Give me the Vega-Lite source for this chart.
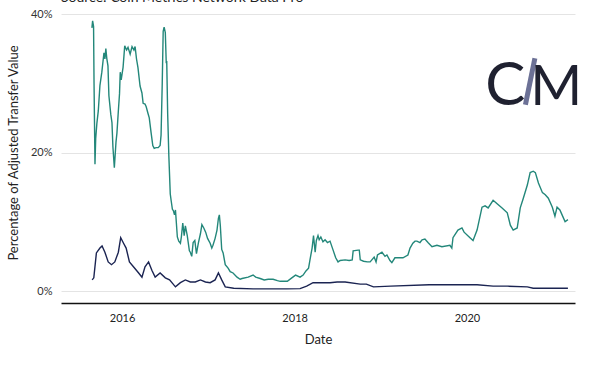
{
  "$schema": "https://vega.github.io/schema/vega-lite/v6.json",
  "width": 514,
  "height": 277,
  "autosize": {"type": "none"},
  "padding": {"left": 61, "top": 14, "right": 25, "bottom": 77},
  "background": "white",
  "title": {
    "text": "Source: Coin Metrics Network Data Pro",
    "anchor": "start",
    "frame": "group",
    "font": "Lato",
    "fontSize": 14,
    "fontWeight": "normal",
    "color": "#222",
    "offset": 3
  },
  "config": {
    "view": {"stroke": null},
    "font": "Lato"
  },
  "layer": [
    {
      "data": {
        "values": [
          {"date": "2015-08-26", "value": 38.0, "series": "A"},
          {"date": "2015-08-29", "value": 39.0, "series": "A"},
          {"date": "2015-09-02", "value": 38.2, "series": "A"},
          {"date": "2015-09-04", "value": 30.0, "series": "A"},
          {"date": "2015-09-08", "value": 18.3, "series": "A"},
          {"date": "2015-09-11", "value": 22.0, "series": "A"},
          {"date": "2015-09-16", "value": 24.2, "series": "A"},
          {"date": "2015-09-22", "value": 26.0, "series": "A"},
          {"date": "2015-09-29", "value": 29.7, "series": "A"},
          {"date": "2015-10-07", "value": 31.6, "series": "A"},
          {"date": "2015-10-16", "value": 34.4, "series": "A"},
          {"date": "2015-10-20", "value": 33.5, "series": "A"},
          {"date": "2015-10-24", "value": 35.0, "series": "A"},
          {"date": "2015-10-28", "value": 33.6, "series": "A"},
          {"date": "2015-11-02", "value": 32.5, "series": "A"},
          {"date": "2015-11-06", "value": 28.2, "series": "A"},
          {"date": "2015-11-14", "value": 25.5, "series": "A"},
          {"date": "2015-11-19", "value": 24.3, "series": "A"},
          {"date": "2015-11-23", "value": 20.8, "series": "A"},
          {"date": "2015-11-29", "value": 17.8, "series": "A"},
          {"date": "2015-12-06", "value": 21.5, "series": "A"},
          {"date": "2015-12-10", "value": 22.8, "series": "A"},
          {"date": "2015-12-16", "value": 26.0, "series": "A"},
          {"date": "2015-12-21", "value": 28.5, "series": "A"},
          {"date": "2015-12-24", "value": 31.6, "series": "A"},
          {"date": "2015-12-28", "value": 30.5, "series": "A"},
          {"date": "2016-01-05", "value": 32.3, "series": "A"},
          {"date": "2016-01-12", "value": 35.4, "series": "A"},
          {"date": "2016-01-20", "value": 34.8, "series": "A"},
          {"date": "2016-01-26", "value": 35.2, "series": "A"},
          {"date": "2016-02-04", "value": 34.2, "series": "A"},
          {"date": "2016-02-12", "value": 35.3, "series": "A"},
          {"date": "2016-02-20", "value": 34.8, "series": "A"},
          {"date": "2016-02-25", "value": 35.3, "series": "A"},
          {"date": "2016-03-02", "value": 33.5, "series": "A"},
          {"date": "2016-03-08", "value": 32.3, "series": "A"},
          {"date": "2016-03-17", "value": 29.6, "series": "A"},
          {"date": "2016-03-25", "value": 28.6, "series": "A"},
          {"date": "2016-03-30", "value": 27.1, "series": "A"},
          {"date": "2016-04-07", "value": 27.0, "series": "A"},
          {"date": "2016-04-12", "value": 26.6, "series": "A"},
          {"date": "2016-04-20", "value": 25.6, "series": "A"},
          {"date": "2016-04-25", "value": 25.0, "series": "A"},
          {"date": "2016-05-03", "value": 22.8, "series": "A"},
          {"date": "2016-05-10", "value": 21.0, "series": "A"},
          {"date": "2016-05-16", "value": 20.6, "series": "A"},
          {"date": "2016-05-24", "value": 20.7, "series": "A"},
          {"date": "2016-06-02", "value": 20.7, "series": "A"},
          {"date": "2016-06-10", "value": 21.0, "series": "A"},
          {"date": "2016-06-14", "value": 22.5, "series": "A"},
          {"date": "2016-06-19", "value": 30.0, "series": "A"},
          {"date": "2016-06-23", "value": 37.5, "series": "A"},
          {"date": "2016-06-27", "value": 38.1, "series": "A"},
          {"date": "2016-07-02", "value": 37.3, "series": "A"},
          {"date": "2016-07-06", "value": 32.9, "series": "A"},
          {"date": "2016-07-08", "value": 33.2, "series": "A"},
          {"date": "2016-07-12", "value": 25.6, "series": "A"},
          {"date": "2016-07-17", "value": 19.5, "series": "A"},
          {"date": "2016-07-23", "value": 14.0, "series": "A"},
          {"date": "2016-07-27", "value": 13.0, "series": "A"},
          {"date": "2016-08-01", "value": 11.8, "series": "A"},
          {"date": "2016-08-05", "value": 11.6, "series": "A"},
          {"date": "2016-08-10", "value": 11.0, "series": "A"},
          {"date": "2016-08-14", "value": 11.7, "series": "A"},
          {"date": "2016-08-22", "value": 7.8, "series": "A"},
          {"date": "2016-08-28", "value": 7.2, "series": "A"},
          {"date": "2016-09-04", "value": 6.9, "series": "A"},
          {"date": "2016-09-08", "value": 7.8, "series": "A"},
          {"date": "2016-09-14", "value": 9.8, "series": "A"},
          {"date": "2016-09-20", "value": 8.0, "series": "A"},
          {"date": "2016-09-25", "value": 9.4, "series": "A"},
          {"date": "2016-10-03", "value": 8.0, "series": "A"},
          {"date": "2016-10-12", "value": 5.8, "series": "A"},
          {"date": "2016-10-16", "value": 5.6, "series": "A"},
          {"date": "2016-10-22", "value": 5.0, "series": "A"},
          {"date": "2016-10-28", "value": 7.0, "series": "A"},
          {"date": "2016-11-04", "value": 7.3, "series": "A"},
          {"date": "2016-11-11", "value": 5.4, "series": "A"},
          {"date": "2016-11-19", "value": 6.9, "series": "A"},
          {"date": "2016-11-28", "value": 8.3, "series": "A"},
          {"date": "2016-12-04", "value": 9.6, "series": "A"},
          {"date": "2016-12-12", "value": 9.1, "series": "A"},
          {"date": "2016-12-20", "value": 8.5, "series": "A"},
          {"date": "2016-12-28", "value": 7.6, "series": "A"},
          {"date": "2017-01-08", "value": 6.9, "series": "A"},
          {"date": "2017-01-15", "value": 6.2, "series": "A"},
          {"date": "2017-01-20", "value": 6.6, "series": "A"},
          {"date": "2017-01-29", "value": 7.6, "series": "A"},
          {"date": "2017-02-06", "value": 8.8, "series": "A"},
          {"date": "2017-02-12", "value": 10.5, "series": "A"},
          {"date": "2017-02-16", "value": 11.0, "series": "A"},
          {"date": "2017-02-20", "value": 9.5, "series": "A"},
          {"date": "2017-02-26", "value": 6.0, "series": "A"},
          {"date": "2017-03-04", "value": 5.5, "series": "A"},
          {"date": "2017-03-13", "value": 3.8, "series": "A"},
          {"date": "2017-03-25", "value": 3.3, "series": "A"},
          {"date": "2017-04-03", "value": 2.8, "series": "A"},
          {"date": "2017-04-15", "value": 2.6, "series": "A"},
          {"date": "2017-05-02", "value": 2.0, "series": "A"},
          {"date": "2017-05-15", "value": 1.7, "series": "A"},
          {"date": "2017-05-23", "value": 1.8, "series": "A"},
          {"date": "2017-06-18", "value": 2.0, "series": "A"},
          {"date": "2017-07-09", "value": 2.3, "series": "A"},
          {"date": "2017-07-20", "value": 2.0, "series": "A"},
          {"date": "2017-08-08", "value": 1.8, "series": "A"},
          {"date": "2017-08-25", "value": 1.6, "series": "A"},
          {"date": "2017-09-11", "value": 1.7, "series": "A"},
          {"date": "2017-10-02", "value": 1.7, "series": "A"},
          {"date": "2017-10-20", "value": 1.5, "series": "A"},
          {"date": "2017-11-01", "value": 1.4, "series": "A"},
          {"date": "2017-11-20", "value": 1.4, "series": "A"},
          {"date": "2017-12-01", "value": 1.4, "series": "A"},
          {"date": "2017-12-20", "value": 1.9, "series": "A"},
          {"date": "2018-01-05", "value": 2.3, "series": "A"},
          {"date": "2018-01-24", "value": 2.0, "series": "A"},
          {"date": "2018-02-06", "value": 2.3, "series": "A"},
          {"date": "2018-02-18", "value": 2.9, "series": "A"},
          {"date": "2018-03-01", "value": 3.3, "series": "A"},
          {"date": "2018-03-07", "value": 4.5, "series": "A"},
          {"date": "2018-03-16", "value": 6.2, "series": "A"},
          {"date": "2018-03-22", "value": 8.0, "series": "A"},
          {"date": "2018-03-29", "value": 5.6, "series": "A"},
          {"date": "2018-04-03", "value": 7.3, "series": "A"},
          {"date": "2018-04-10", "value": 8.0, "series": "A"},
          {"date": "2018-04-15", "value": 7.4, "series": "A"},
          {"date": "2018-04-22", "value": 7.8, "series": "A"},
          {"date": "2018-05-01", "value": 7.1, "series": "A"},
          {"date": "2018-05-10", "value": 7.4, "series": "A"},
          {"date": "2018-05-20", "value": 7.0, "series": "A"},
          {"date": "2018-05-31", "value": 7.2, "series": "A"},
          {"date": "2018-06-13", "value": 5.9, "series": "A"},
          {"date": "2018-06-24", "value": 4.8, "series": "A"},
          {"date": "2018-07-04", "value": 4.2, "series": "A"},
          {"date": "2018-07-13", "value": 4.4, "series": "A"},
          {"date": "2018-08-03", "value": 4.5, "series": "A"},
          {"date": "2018-08-20", "value": 4.4, "series": "A"},
          {"date": "2018-09-02", "value": 4.5, "series": "A"},
          {"date": "2018-09-06", "value": 5.8, "series": "A"},
          {"date": "2018-09-27", "value": 5.9, "series": "A"},
          {"date": "2018-10-02", "value": 5.9, "series": "A"},
          {"date": "2018-10-06", "value": 4.5, "series": "A"},
          {"date": "2018-10-20", "value": 4.3, "series": "A"},
          {"date": "2018-11-05", "value": 4.2, "series": "A"},
          {"date": "2018-11-17", "value": 4.2, "series": "A"},
          {"date": "2018-12-04", "value": 4.9, "series": "A"},
          {"date": "2018-12-12", "value": 4.2, "series": "A"},
          {"date": "2018-12-18", "value": 5.2, "series": "A"},
          {"date": "2019-01-06", "value": 5.6, "series": "A"},
          {"date": "2019-01-19", "value": 5.0, "series": "A"},
          {"date": "2019-01-27", "value": 5.2, "series": "A"},
          {"date": "2019-02-09", "value": 4.4, "series": "A"},
          {"date": "2019-02-17", "value": 4.1, "series": "A"},
          {"date": "2019-03-02", "value": 4.8, "series": "A"},
          {"date": "2019-03-23", "value": 4.8, "series": "A"},
          {"date": "2019-04-05", "value": 4.8, "series": "A"},
          {"date": "2019-04-26", "value": 5.2, "series": "A"},
          {"date": "2019-05-05", "value": 6.2, "series": "A"},
          {"date": "2019-05-17", "value": 6.9, "series": "A"},
          {"date": "2019-05-26", "value": 7.2, "series": "A"},
          {"date": "2019-06-03", "value": 7.2, "series": "A"},
          {"date": "2019-06-16", "value": 7.0, "series": "A"},
          {"date": "2019-06-25", "value": 7.4, "series": "A"},
          {"date": "2019-07-07", "value": 7.5, "series": "A"},
          {"date": "2019-07-20", "value": 7.0, "series": "A"},
          {"date": "2019-08-06", "value": 6.4, "series": "A"},
          {"date": "2019-08-27", "value": 6.6, "series": "A"},
          {"date": "2019-09-17", "value": 6.4, "series": "A"},
          {"date": "2019-10-21", "value": 6.6, "series": "A"},
          {"date": "2019-10-29", "value": 6.2, "series": "A"},
          {"date": "2019-11-03", "value": 7.7, "series": "A"},
          {"date": "2019-11-24", "value": 8.8, "series": "A"},
          {"date": "2019-12-11", "value": 9.1, "series": "A"},
          {"date": "2019-12-20", "value": 8.5, "series": "A"},
          {"date": "2020-01-14", "value": 7.7, "series": "A"},
          {"date": "2020-01-27", "value": 7.3, "series": "A"},
          {"date": "2020-02-13", "value": 8.8, "series": "A"},
          {"date": "2020-03-05", "value": 12.1, "series": "A"},
          {"date": "2020-03-18", "value": 12.3, "series": "A"},
          {"date": "2020-03-31", "value": 12.0, "series": "A"},
          {"date": "2020-04-21", "value": 13.1, "series": "A"},
          {"date": "2020-05-08", "value": 12.6, "series": "A"},
          {"date": "2020-05-29", "value": 12.0, "series": "A"},
          {"date": "2020-06-20", "value": 11.3, "series": "A"},
          {"date": "2020-07-03", "value": 9.5, "series": "A"},
          {"date": "2020-07-15", "value": 8.8, "series": "A"},
          {"date": "2020-08-01", "value": 9.1, "series": "A"},
          {"date": "2020-08-14", "value": 12.0, "series": "A"},
          {"date": "2020-08-27", "value": 13.4, "series": "A"},
          {"date": "2020-09-13", "value": 15.3, "series": "A"},
          {"date": "2020-09-25", "value": 17.1, "series": "A"},
          {"date": "2020-10-08", "value": 17.3, "series": "A"},
          {"date": "2020-10-17", "value": 17.1, "series": "A"},
          {"date": "2020-10-30", "value": 15.6, "series": "A"},
          {"date": "2020-11-16", "value": 14.2, "series": "A"},
          {"date": "2020-11-28", "value": 13.9, "series": "A"},
          {"date": "2020-12-11", "value": 13.4, "series": "A"},
          {"date": "2020-12-28", "value": 12.1, "series": "A"},
          {"date": "2021-01-08", "value": 10.8, "series": "A"},
          {"date": "2021-01-17", "value": 12.1, "series": "A"},
          {"date": "2021-01-29", "value": 11.7, "series": "A"},
          {"date": "2021-02-11", "value": 10.7, "series": "A"},
          {"date": "2021-02-20", "value": 10.0, "series": "A"},
          {"date": "2021-03-04", "value": 10.3, "series": "A"},
          {"date": "2015-08-27", "value": 1.6, "series": "B"},
          {"date": "2015-09-03", "value": 1.9, "series": "B"},
          {"date": "2015-09-14", "value": 5.5, "series": "B"},
          {"date": "2015-09-29", "value": 6.2, "series": "B"},
          {"date": "2015-10-08", "value": 6.5, "series": "B"},
          {"date": "2015-10-20", "value": 5.6, "series": "B"},
          {"date": "2015-11-03", "value": 4.2, "series": "B"},
          {"date": "2015-11-17", "value": 3.8, "series": "B"},
          {"date": "2015-12-01", "value": 4.2, "series": "B"},
          {"date": "2015-12-16", "value": 5.6, "series": "B"},
          {"date": "2015-12-26", "value": 7.7, "series": "B"},
          {"date": "2016-01-07", "value": 6.9, "series": "B"},
          {"date": "2016-01-18", "value": 6.2, "series": "B"},
          {"date": "2016-02-01", "value": 4.2, "series": "B"},
          {"date": "2016-02-18", "value": 3.5, "series": "B"},
          {"date": "2016-03-11", "value": 2.6, "series": "B"},
          {"date": "2016-03-25", "value": 2.0, "series": "B"},
          {"date": "2016-04-07", "value": 3.5, "series": "B"},
          {"date": "2016-04-22", "value": 4.2, "series": "B"},
          {"date": "2016-05-06", "value": 3.0, "series": "B"},
          {"date": "2016-05-20", "value": 2.0, "series": "B"},
          {"date": "2016-06-10", "value": 2.6, "series": "B"},
          {"date": "2016-07-02", "value": 1.9, "series": "B"},
          {"date": "2016-07-20", "value": 1.6, "series": "B"},
          {"date": "2016-08-14", "value": 0.6, "series": "B"},
          {"date": "2016-09-04", "value": 1.2, "series": "B"},
          {"date": "2016-09-25", "value": 1.6, "series": "B"},
          {"date": "2016-10-16", "value": 1.3, "series": "B"},
          {"date": "2016-11-06", "value": 1.3, "series": "B"},
          {"date": "2016-11-28", "value": 1.6, "series": "B"},
          {"date": "2016-12-19", "value": 1.3, "series": "B"},
          {"date": "2017-01-08", "value": 1.2, "series": "B"},
          {"date": "2017-01-29", "value": 1.6, "series": "B"},
          {"date": "2017-02-12", "value": 2.6, "series": "B"},
          {"date": "2017-02-26", "value": 1.6, "series": "B"},
          {"date": "2017-03-13", "value": 0.6, "series": "B"},
          {"date": "2017-04-18", "value": 0.4, "series": "B"},
          {"date": "2017-07-09", "value": 0.3, "series": "B"},
          {"date": "2017-11-28", "value": 0.3, "series": "B"},
          {"date": "2018-01-24", "value": 0.35, "series": "B"},
          {"date": "2018-02-21", "value": 0.7, "series": "B"},
          {"date": "2018-03-20", "value": 1.2, "series": "B"},
          {"date": "2018-05-31", "value": 1.2, "series": "B"},
          {"date": "2018-06-30", "value": 1.3, "series": "B"},
          {"date": "2018-08-03", "value": 1.3, "series": "B"},
          {"date": "2018-10-06", "value": 1.0, "series": "B"},
          {"date": "2018-11-01", "value": 1.0, "series": "B"},
          {"date": "2018-12-01", "value": 0.6, "series": "B"},
          {"date": "2019-02-12", "value": 0.7, "series": "B"},
          {"date": "2019-07-25", "value": 0.9, "series": "B"},
          {"date": "2019-12-01", "value": 0.9, "series": "B"},
          {"date": "2020-02-13", "value": 0.9, "series": "B"},
          {"date": "2020-04-21", "value": 0.7, "series": "B"},
          {"date": "2020-06-20", "value": 0.7, "series": "B"},
          {"date": "2020-09-13", "value": 0.6, "series": "B"},
          {"date": "2020-10-08", "value": 0.4, "series": "B"},
          {"date": "2020-12-31", "value": 0.4, "series": "B"},
          {"date": "2021-03-04", "value": 0.4, "series": "B"}
        ]
      },
      "mark": {"type": "line", "strokeWidth": 1.4, "interpolate": "linear"},
      "encoding": {
        "x": {
          "field": "date",
          "type": "temporal",
          "scale": {"domain": [{"year": 2015, "month": 4, "date": 17}, {"year": 2021, "month": 4, "date": 3}]},
          "axis": {
            "title": "Date",
            "values": [{"year": 2016, "month": 1, "date": 1}, {"year": 2018, "month": 1, "date": 1}, {"year": 2020, "month": 1, "date": 1}],
            "format": "%Y",
            "offset": 12,
            "grid": false,
            "ticks": false,
            "domainColor": "#111",
            "domainWidth": 1.3,
            "labelFont": "Lato",
            "labelFontSize": 11,
            "labelColor": "#222",
            "labelPadding": 9,
            "titleFont": "Lato",
            "titleFontSize": 13,
            "titleFontWeight": "normal",
            "titleColor": "#222",
            "titlePadding": 10
          }
        },
        "y": {
          "field": "value",
          "type": "quantitative",
          "scale": {"domain": [0, 40], "nice": false},
          "axis": {
            "title": "Percentage of Adjusted Transfer Value",
            "values": [0, 20, 40],
            "labelExpr": "datum.value + '%'",
            "domain": false,
            "ticks": false,
            "gridColor": "#e4e4e4",
            "gridWidth": 1,
            "labelFont": "Lato",
            "labelFontSize": 11,
            "labelColor": "#333",
            "labelPadding": 9,
            "titleFont": "Lato",
            "titleFontSize": 13,
            "titleFontWeight": "normal",
            "titleColor": "#222",
            "titlePadding": 10
          }
        },
        "color": {
          "field": "series",
          "type": "nominal",
          "scale": {"domain": ["A", "B"], "range": ["#23877a", "#1b2452"]},
          "legend": null
        }
      }
    },
    {
      "data": {"values": [{}]},
      "mark": {"type": "text", "text": "C", "font": "Lato", "fontSize": 60, "fontWeight": "normal", "color": "#1f2130", "align": "center", "baseline": "alphabetic"},
      "encoding": {
        "x": {"datum": {"year": 2020, "month": 6, "date": 12}, "type": "temporal"},
        "y": {"datum": 26.9, "type": "quantitative"}
      }
    },
    {
      "data": {"values": [{}]},
      "mark": {"type": "rule", "strokeWidth": 5, "color": "#6c7196", "strokeCap": "butt"},
      "encoding": {
        "x": {"datum": {"year": 2020, "month": 10, "date": 15}, "type": "temporal"},
        "y": {"datum": 33.6, "type": "quantitative"},
        "x2": {"datum": {"year": 2020, "month": 9, "date": 5}},
        "y2": {"datum": 26.9}
      }
    },
    {
      "data": {"values": [{}]},
      "mark": {"type": "text", "text": "M", "font": "Lato", "fontSize": 56, "fontWeight": "normal", "color": "#1f2130", "align": "center", "baseline": "alphabetic"},
      "encoding": {
        "x": {"datum": {"year": 2021, "month": 1, "date": 14}, "type": "temporal"},
        "y": {"datum": 26.9, "type": "quantitative"}
      }
    }
  ]
}
